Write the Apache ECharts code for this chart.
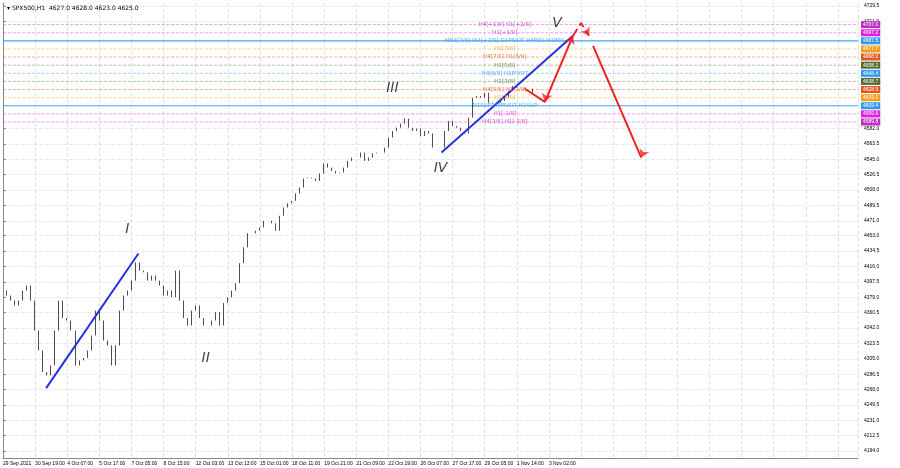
<!DOCTYPE html><html><head><meta charset="utf-8">
<script src="https://cdn.jsdelivr.net/npm/echarts@6/dist/echarts.min.js"></script>
<style>html,body{margin:0;background:#fff}#c{width:900px;height:468px}</style></head><body><div id="c"></div>
<script>
const closes=[4387,4381,4375,4369,4375,4387,4393,4375,4339,4315,4289,4285,4297,4339,4375,4354,4351,4339,4297,4303,4306,4315,4333,4363,4351,4327,4321,4297,4321,4363,
4381,4387,4399,4421,4411,4409,4399,4405,4399,4393,4381,4387,4379,4411,4375,4354,4345,4363,4369,4354,4345,4345,4351,4361,4345,4372,4379,4387,4396,4420,4439,
4456,4456,4459,4463,4471,4471,4468,4459,4477,4487,4492,4495,4504,4511,4522,4523,4522,4519,4528,4540,4535,4531,4528,4529,4535,4543,4547,4547,4553,4543,4547,4552,4553,4553,4559,4571,4579,4583,4588,4594,4583,4579,4582,4573,4579,4576,4559,4559,4559,
4579,4591,4585,4583,4579,4576,4595,4619,4621,4619,4625,4613,4612,4613,4615,4619,4627,4633,4631,4631,4630,4630,4625];
const timeLabels=["29 Sep 2021","30 Sep 19:00","4 Oct 07:00","5 Oct 17:00","7 Oct 05:00","8 Oct 15:00","12 Oct 03:00","13 Oct 13:00","15 Oct 01:00","18 Oct 11:00","19 Oct 21:00","21 Oct 09:00","22 Oct 19:00","26 Oct 07:00","27 Oct 17:00","29 Oct 05:00","1 Nov 14:00","3 Nov 02:00"];
const yTicks=[4194.0,4212.5,4231.0,4249.5,4268.0,4286.5,4305.0,4323.5,4342.0,4360.5,4379.0,4397.5,4416.0,4434.5,4453.0,4471.0,4489.5,4508.0,4526.5,4545.0,4563.5,4582.0,4711.0,4729.5];
const levelValues=[4707.0,4697.2,4687.5,4677.7,4668.0,4658.2,4648.4,4638.7,4628.9,4619.1,4609.4,4599.6,4589.8];
const levelNames=["H4[+1/8] H1[+2/8]","H1[+1/8]","MN1[7/8] W1[+2/8] D1PIVOT H4RES H1RES","H1[7/8]","H4[7/8] H1[6/8]","H1[5/8]","H4[6/8] H1PIVOT","H1[3/8]","H4[5/8] H1[2/8]","H1[1/8]","D1SUP H4PIVOT H1SUP","H1[-1/8]","H4[3/8] H1[-2/8]"];
const levelColors=["#c030c0","#e020e0","#3399ee","#f0a020","#e05a20","#556b2f","#3399ee","#556b2f","#e05a20","#f0a020","#3399ee","#e020e0","#c030c0"];
const waveI=[[10.75,4269.6],[33.75,4431.7]];
const waveV=[[109.25,4553],[142,4693.5]];
const redPath1=[[130,4629.8],[135,4614],[142,4693.5]];
const redDash=[[142,4693.5],[144,4709],[146,4693.5]];
const redPath2=[[147,4681.5],[159,4547]];
const waveLabels=[["I",31,4460.5],["II",50.5,4305.6],["III",97,4629.8],["IV",109,4533.8],["V",138,4709]];
const NCAT=214;

const cats=[];for(let i=0;i<NCAT;i++){const k=i/8;cats.push(Number.isInteger(k)&&k<timeLabels.length?timeLabels[k]:'');}
const ohlc=closes.map((c,i)=>{const o=i?closes[i-1]:c;return [o,c,Math.min(o,c),Math.max(o,c)];});
const hexA=(h,a)=>{const n=parseInt(h.slice(1),16);return `rgba(${n>>16},${(n>>8)&255},${n&255},${a})`;};
const chart=echarts.init(document.getElementById('c'));
const lineSer=(pts,color,dash)=>({type:'line',data:pts,symbol:'none',silent:true,z:5,
 lineStyle:{color,width:2,type:dash?'dashed':'solid'},xAxisIndex:1});
const solidIdx=[2,10];
const levelSeries=levelValues.map((v,i)=>{const s=solidIdx.includes(i);return {type:'line',xAxisIndex:1,silent:true,symbol:'none',z:2,
  data:[[0,v],[NCAT-1,v]],lineStyle:{color:hexA(levelColors[i],s?0.9:0.55),type:s?'solid':'dashed',width:s?1.2:0.8},
  endLabel:{show:true,formatter:v.toFixed(1),color:'#fff',backgroundColor:levelColors[i],fontSize:5,padding:[1,2],distance:3}};});
chart.setOption({animation:false,
 title:{text:'\u25BE SPX500,H1  4627.0 4628.0 4623.0 4625.0',left:2,top:0,textStyle:{fontSize:6,fontWeight:'normal',color:'#000',fontFamily:'DejaVu Sans'}},
 grid:{left:0,right:42,top:3,bottom:10},
 xAxis:[{type:'category',data:cats,boundaryGap:false,axisLine:{lineStyle:{color:'#888'}},axisTick:{show:false},
   axisLabel:{interval:0,fontSize:5,color:'#000',align:'left',margin:3},
   splitLine:{show:true,interval:7,lineStyle:{color:'#e2e2e2',type:'dashed'}}},
  {type:'value',min:0,max:NCAT-1,show:false}],
 yAxis:{type:'value',position:'right',min:4185.6,max:4733,scale:true,
   axisLine:{show:true,lineStyle:{color:'#888'}},axisTick:{show:true,customValues:yTicks,length:3},
   axisLabel:{customValues:yTicks,fontSize:5,color:'#000',margin:6,formatter:v=>v.toFixed(1)},
   splitLine:{show:true,lineStyle:{color:'#e8e8e8',type:'dashed'}}},
 series:[
  {type:'candlestick',data:ohlc,barWidth:1,z:3,itemStyle:{color:'#fff',color0:'#000',borderColor:'#222',borderColor0:'#222',borderWidth:0.8}},
  ...levelSeries,
  {type:'scatter',data:levelValues.map((v,i)=>({value:[125,v,levelNames[i]],label:{color:levelColors[i]}})),symbolSize:0,silent:true,
   label:{show:true,position:'inside',formatter:p=>p.data.value[2],fontSize:5.5,fontFamily:'DejaVu Sans'},z:6},
  lineSer(waveI,'#2233dd'),lineSer(waveV,'#2233dd'),
  lineSer(redPath1,'#ee2222'),
  lineSer(redDash,'#ee2222',true),
  lineSer(redPath2,'#ee2222'),
  {type:'scatter',xAxisIndex:1,symbol:'arrow',symbolSize:8,itemStyle:{color:'#ee2222'},silent:true,z:6,
   data:[{value:[135,4614],symbolRotate:165},{value:[142,4693.5],symbolRotate:-25},{value:[146,4693.5],symbolRotate:-150},{value:[159,4547],symbolRotate:157}]},
  {type:'scatter',xAxisIndex:1,symbolSize:0,silent:true,z:7,data:waveLabels.map(w=>[w[1],w[2],w[0]]),
   label:{show:true,position:'inside',formatter:p=>p.data[2],fontSize:14,fontStyle:'italic',fontFamily:'DejaVu Sans',color:'#111'}}
 ]});
</script></body></html>
